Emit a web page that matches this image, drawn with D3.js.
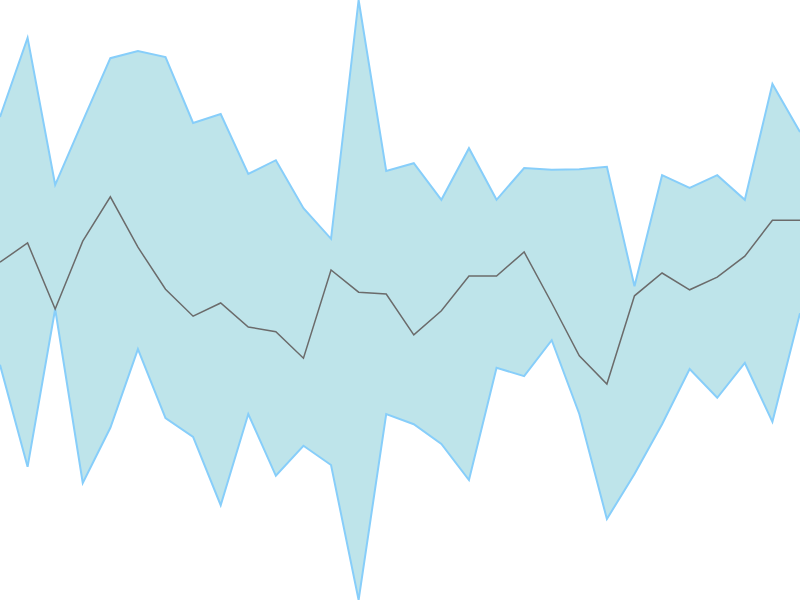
<!DOCTYPE html>
<html>
<head>
<meta charset="utf-8">
<script src="https://cdn.jsdelivr.net/npm/d3@7"></script>
<style>
  html, body { margin: 0; padding: 0; background: #fff; }
  svg { display: block; }
</style>
</head>
<body>
<div id="chart"></div>
<script>
// band top, middle line and band bottom, one value per step
var upper = [80.5, 93.7, 69.2, 79.8, 90.3, 91.5, 90.5, 79.5, 81, 71, 73.3, 65.3, 60.2, 100, 71.5,
             72.8, 66.7, 75.3, 66.7, 72, 71.7, 71.8, 72.2, 52.3, 70.8, 68.7, 70.8, 66.7, 86, 78];
var middle = [56.3, 59.5, 48.5, 59.8, 67.2, 58.8, 51.8, 47.3, 49.5, 45.5, 44.7, 40.3, 55, 51.3, 51,
              44.2, 48.2, 54, 54, 58, 49.5, 40.7, 36, 50.7, 54.5, 51.7, 53.8, 57.3, 63.3, 63.3];
var lower = [39.2, 22.2, 48.5, 19.5, 28.7, 41.8, 30.3, 27.2, 15.8, 31, 20.7, 25.7, 22.5, 0, 31,
             29.3, 26, 20, 38.7, 37.3, 43.3, 31, 13.5, 21, 29.3, 38.5, 33.7, 39.5, 29.7, 47.8];

var width = 800, height = 600;

var svg = d3.select('#chart').append('svg')
    .attr('width', width)
    .attr('height', height);

var data = upper.map(function(u, i){
    return {i: i, hi: u, mid: middle[i], lo: lower[i]};
});

var x = d3.scaleLinear()
    .domain([0, data.length - 1])
    .range([0, width]);

var y = d3.scaleLinear()
    .domain([d3.min(lower), d3.max(upper)])
    .range([height, 0]);

var area = d3.area()
    .x(d => x(d.i))
    .y0(d => y(d.lo))
    .y1(d => y(d.hi));

svg.append('path')
    .datum(data)
    .attr('d', area)
    .attr('fill', '#bee4ea')
    .attr('stroke', 'none');

// edges of the band
svg.append('path')
    .datum(data)
    .attr('d', d3.line().x(d => x(d.i)).y(d => y(d.hi)))
    .attr('fill', 'none')
    .attr('stroke', '#87cefa')
    .attr('stroke-width', 2);

svg.append('path')
    .datum(data)
    .attr('d', d3.line().x(d => x(d.i)).y(d => y(d.lo)))
    .attr('fill', 'none')
    .attr('stroke', '#87cefa')
    .attr('stroke-width', 2);

svg.append('path')
    .datum(data)
    .attr('d', d3.line().x(d => x(d.i)).y(d => y(d.mid)))
    .attr('fill', 'none')
    .attr('stroke', '#6b6b6b')
    .attr('stroke-width', 1.5);
</script>
</body>
</html>
